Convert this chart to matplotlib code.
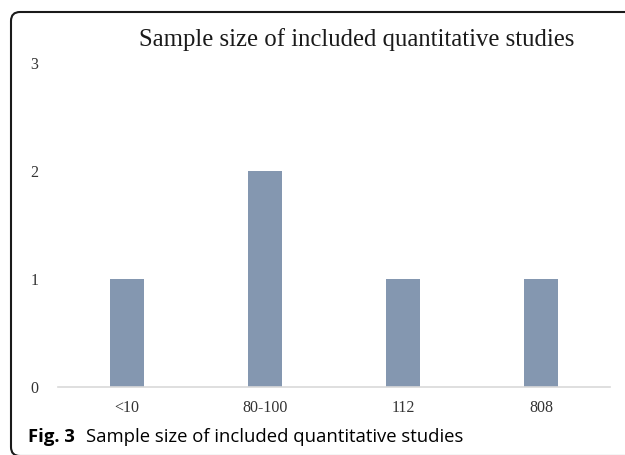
import matplotlib.pyplot as plt
from matplotlib.patches import FancyBboxPatch
from matplotlib.transforms import IdentityTransform
import numpy as np

categories = ['<10', '80-100', '112', '808']
counts = [1, 2, 1, 1]
yticks = [0, 1, 2, 3]

W, H = 625, 455
fig = plt.figure(figsize=(W / 100, H / 100), dpi=100)

# rounded frame of the panel (pixel coords, origin bottom-left)
frame = FancyBboxPatch((11, -1), 660, H - 12 + 1,
                       boxstyle='round,pad=0,rounding_size=9',
                       transform=IdentityTransform(), fill=False,
                       edgecolor='#1a1a1a', linewidth=1.5, clip_on=False)
fig.patches.append(frame)

ax = fig.add_axes([58 / W, (H - 387) / H, (610 - 58) / W, (387 - 63) / H])
x = np.arange(len(categories))
ax.bar(x, counts, width=0.25, color='#8497B0')
ax.set_xlim(-0.5, len(categories) - 0.5)
ax.set_ylim(0, 3)
ax.set_yticks(yticks)
ax.set_xticks(x)
ax.set_xticklabels(categories)
for s in ['top', 'right', 'left']:
    ax.spines[s].set_visible(False)
ax.spines['bottom'].set_color('#D9D9D9')
ax.spines['bottom'].set_linewidth(1.2)
ax.tick_params(length=0, labelsize=11.5)
ax.tick_params(axis='y', pad=14)
ax.tick_params(axis='x', pad=9)
for lab in ax.get_xticklabels() + ax.get_yticklabels():
    lab.set_family('Liberation Serif')
    lab.set_color('#333333')

fig.text(357 / W, 1 - 40 / H, 'Sample size of included quantitative studies',
         ha='center', va='center', family='Liberation Serif', fontsize=17.8,
         color='#1a1a1a')

fig.text(28 / W, 1 - 437 / H, 'Fig. 3', ha='left', va='center',
         family='Open Sans', fontweight='bold', fontsize=13.3)
fig.text(86 / W, 1 - 437 / H, 'Sample size of included quantitative studies',
         ha='left', va='center', family='Open Sans', fontsize=13.3)

fig.savefig('out.png', dpi=100)
